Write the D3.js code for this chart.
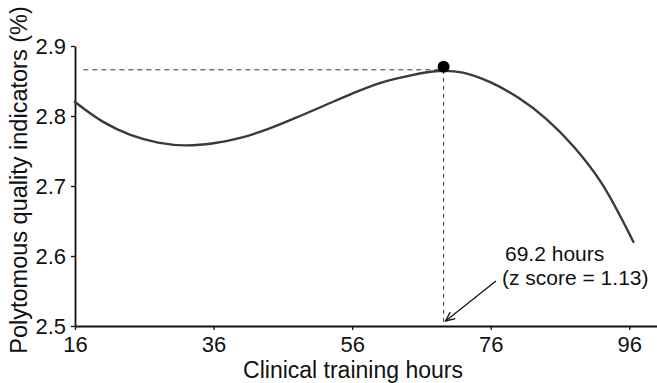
<!DOCTYPE html>
<html>
<head>
<meta charset="utf-8">
<script src="https://cdn.jsdelivr.net/npm/d3@7"></script>
<style>
  html, body { margin: 0; padding: 0; background: #fff; }
  svg { display: block; }
  text { font-family: "Liberation Sans", Arial, Helvetica, sans-serif; fill: #111; }
</style>
</head>
<body>
<svg id="chart" width="657" height="383"></svg>
<script>
// Fitted curve: polytomous quality indicators against clinical training hours
const hours  = [16, 20, 24, 28, 32, 36, 40, 44, 48, 52, 56, 60, 64, 68, 72, 76, 80, 84, 88, 92, 96.6];
const values = [2.820, 2.792, 2.773, 2.762, 2.758, 2.761, 2.769, 2.782, 2.798, 2.815, 2.832, 2.847, 2.857, 2.864, 2.862, 2.848, 2.826, 2.796, 2.756, 2.704, 2.620];

// Optimum point
const peakHours = 69.2;
const peakValue = 2.866;
const peakZ = 1.13;

// Axis ticks
const xTicks = [16, 36, 56, 76, 96];
const yTicks = [2.5, 2.6, 2.7, 2.8, 2.9];

const svg = d3.select("#chart");

const x = d3.scaleLinear().domain([16, 100]).range([75, 657]);
const y = d3.scaleLinear().domain([2.5, 2.9]).range([326, 46]);

// Axes
const xAxis = svg.append("g")
  .attr("transform", `translate(0,${y(2.5)})`)
  .call(d3.axisBottom(x).tickValues(xTicks).tickSize(4).tickSizeOuter(0).tickPadding(6).tickFormat(d3.format("d")));
const yAxis = svg.append("g")
  .attr("transform", `translate(${x(16)},0)`)
  .call(d3.axisLeft(y).tickValues(yTicks).tickSize(4).tickSizeOuter(0).tickPadding(5).tickFormat(d3.format(".1f")));

[xAxis, yAxis].forEach(g => {
  g.select(".domain").attr("stroke", "#111").attr("stroke-width", 1.8);
  g.selectAll(".tick line").attr("stroke", "#111").attr("stroke-width", 1.3);
  g.selectAll(".tick text").attr("font-size", 22).attr("fill", "#111")
    .attr("font-family", "'Liberation Sans', Arial, sans-serif");
});

// Axis titles
svg.append("text")
  .attr("x", 353).attr("y", 378)
  .attr("text-anchor", "middle")
  .attr("font-size", 23)
  .text("Clinical training hours");

svg.append("text")
  .attr("transform", `translate(27,180) rotate(-90)`)
  .attr("text-anchor", "middle")
  .attr("font-size", 23.5)
  .text("Polytomous quality indicators (%)");

// Reference lines to the optimum
svg.append("line")
  .attr("x1", x(17.2)).attr("x2", x(peakHours))
  .attr("y1", y(peakValue)).attr("y2", y(peakValue))
  .attr("stroke", "#333").attr("stroke-width", 1).attr("stroke-dasharray", "5,4");
svg.append("line")
  .attr("x1", x(peakHours)).attr("x2", x(peakHours))
  .attr("y1", y(peakValue)).attr("y2", y(2.5))
  .attr("stroke", "#333").attr("stroke-width", 1).attr("stroke-dasharray", "4,4");

// Curve
const line = d3.line()
  .x((d, i) => x(hours[i]))
  .y(d => y(d))
  .curve(d3.curveCatmullRom.alpha(0.5));
svg.append("path")
  .datum(values)
  .attr("d", line)
  .attr("fill", "none")
  .attr("stroke", "#3a3a3a")
  .attr("stroke-width", 2.4)
  .attr("stroke-linecap", "round");

// Optimum marker
svg.append("circle")
  .attr("cx", x(peakHours)).attr("cy", y(peakValue) - 3)
  .attr("r", 6)
  .attr("fill", "#000");

// Annotation
const ann = svg.append("g").attr("font-size", 21);
ann.append("text").attr("x", 505).attr("y", 261).text(`${peakHours} hours`);
ann.append("text").attr("x", 502).attr("y", 285).text(`(z score = ${peakZ})`);

// Arrow pointing at the optimum on the x axis
const tipX = x(peakHours) + 2, tipY = y(2.5) - 5;
const startX = 496, startY = 281;
svg.append("line")
  .attr("x1", startX).attr("y1", startY).attr("x2", tipX).attr("y2", tipY)
  .attr("stroke", "#111").attr("stroke-width", 1.3);
const ang = Math.atan2(startY - tipY, startX - tipX);
const headLen = 10, spread = 0.42;
svg.append("path")
  .attr("d", `M${tipX + headLen * Math.cos(ang - spread)},${tipY + headLen * Math.sin(ang - spread)}
              L${tipX},${tipY}
              L${tipX + headLen * Math.cos(ang + spread)},${tipY + headLen * Math.sin(ang + spread)}`)
  .attr("fill", "none").attr("stroke", "#111").attr("stroke-width", 1.3);
</script>
</body>
</html>
